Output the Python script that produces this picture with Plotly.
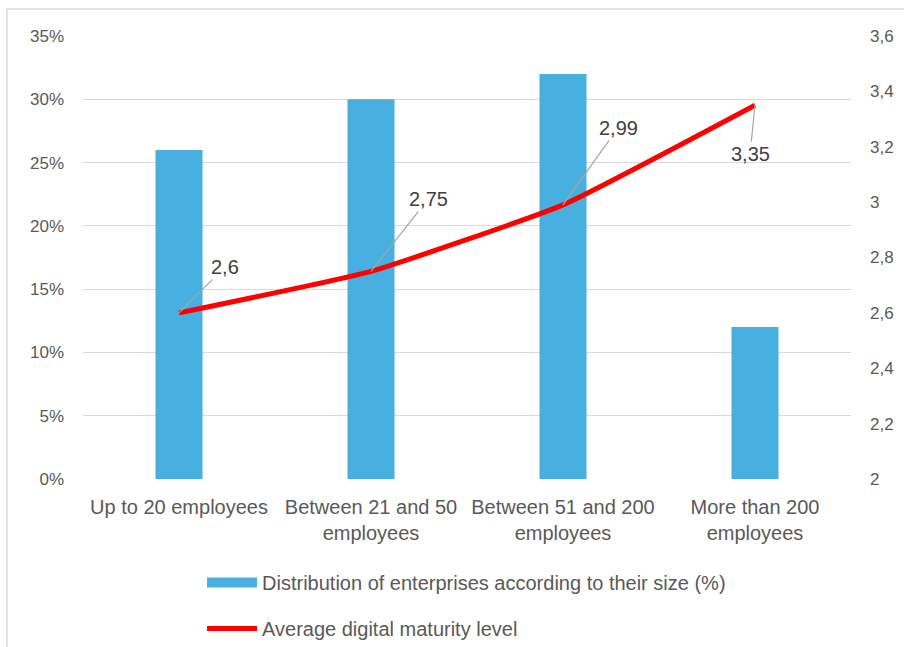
import plotly.graph_objects as go

categories = ["Up to 20 employees", "Between 21 and 50<br>employees",
              "Between 51 and 200<br>employees", "More than 200<br>employees"]
share_pct = [26, 30, 32, 12]
maturity = [2.6, 2.75, 2.99, 3.35]
maturity_labels = ["2,6", "2,75", "2,99", "3,35"]
label_offsets = [(46, -46), (57, -72), (55, -77), (-5, 49)]

FONT = "Liberation Sans, Arial, sans-serif"
GREY = "#595959"
BAR_COLOR = "#47B0E0"
BAR_NAME = "Distribution of enterprises according to their size (%)"

fig = go.Figure()
fig.add_trace(go.Bar(
    x=categories, y=share_pct, name=BAR_NAME,
    marker=dict(color=BAR_COLOR, line=dict(width=0)), showlegend=False,
))
# legend entry for the bars, drawn as a wide block like the original
fig.add_trace(go.Scatter(
    x=[None], y=[None], name=BAR_NAME, mode="lines",
    line=dict(color=BAR_COLOR, width=14), legendgroup="a", hoverinfo="skip",
))
fig.add_trace(go.Scatter(
    x=categories, y=maturity, name="Average digital maturity level", yaxis="y2",
    mode="lines", line=dict(color="#FF0000", width=5, shape="spline", smoothing=0.4),
    legendgroup="b",
))

for c, v, t, (ax, ay) in zip(categories, maturity, maturity_labels, label_offsets):
    fig.add_annotation(x=c, y=v, xref="x", yref="y2", text=t, showarrow=True,
                       arrowhead=0, arrowwidth=1.2, arrowcolor="#A6A6A6",
                       ax=ax, ay=ay, standoff=0,
                       font=dict(family=FONT, size=20, color="#404040"))

fig.add_shape(type="rect", xref="paper", yref="paper",
              x0=(7 - 83) / 768, x1=(915 - 83) / 768,
              y0=(479 - 660) / 443, y1=(479 - 9) / 443,
              line=dict(color="#D9D9D9", width=1.5), fillcolor="rgba(0,0,0,0)", layer="below")

fig.update_layout(
    width=904, height=647,
    margin=dict(l=83, r=53, t=36, b=168, autoexpand=False),
    paper_bgcolor="white", plot_bgcolor="white",
    separators=",.",
    bargap=0.755,
    font=dict(family=FONT, size=17, color=GREY),
    xaxis=dict(showgrid=False, showline=False, ticks="", ticklabelstandoff=14,
               automargin=False, tickfont=dict(size=20, color=GREY)),
    yaxis=dict(range=[0, 35], dtick=5, ticksuffix="%", showgrid=True,
               gridcolor="#D9D9D9", gridwidth=1, zeroline=False, showline=False,
               automargin=False, ticklabelstandoff=18, tickfont=dict(size=17, color=GREY)),
    yaxis2=dict(range=[2, 3.6], dtick=0.2, overlaying="y", side="right",
                showgrid=False, zeroline=False, showline=False, automargin=False,
                ticklabelstandoff=18, tickfont=dict(size=17, color=GREY)),
    legend=dict(orientation="v", x=0.155, xanchor="left",
                yref="container", y=1 - 563 / 647, yanchor="top",
                traceorder="grouped", tracegroupgap=17,
                font=dict(size=20, color=GREY), itemwidth=50, bgcolor="rgba(0,0,0,0)"),
    showlegend=True,
)

fig.write_html("out.html")
